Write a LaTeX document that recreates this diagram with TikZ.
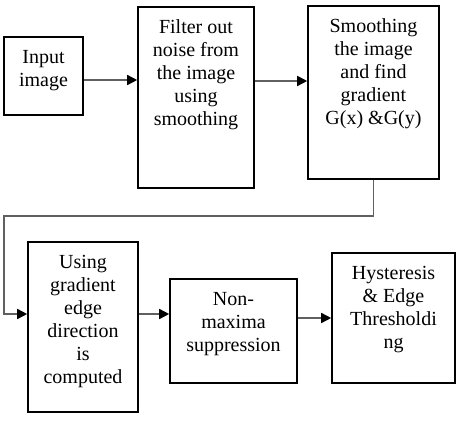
\documentclass[tikz,border=0pt]{standalone}
\usepackage{fontspec}
\setmainfont{Liberation Serif}
\usetikzlibrary{arrows.meta}

\newcommand{\stagetext}[3]{\parbox[c][#2pt][t]{#1pt}{\centering\rule{0pt}{26pt}#3}}

\tikzset{
  stage/.style={draw, line width=1.6pt, inner sep=0pt, fill=white,
                font=\fontsize{20}{23}\selectfont},
  flow/.style={draw=gray!75!black, line width=1.6pt,
               -{Triangle[length=10pt, width=10pt, color=black]}}
}

\begin{document}
\begin{tikzpicture}[x=1pt, y=-1pt]
  \useasboundingbox[fill=white] (0,0) rectangle (456,434);

  \node[stage] (input)   at (43.5,76)   {\stagetext{79}{78}{Input\\image}};
  \node[stage] (filter)  at (196,97.5)  {\stagetext{116}{181}{Filter out\\noise from\\the image\\using\\smoothing}};
  \node[stage] (smooth)  at (373.5,92.5){\stagetext{131}{173}{Smoothing\\the image\\and find\\gradient\\G(x) \&G(y)}};
  \node[stage] (edge)    at (83,327)    {\stagetext{110}{170}{Using\\gradient\\edge\\direction\\is\\computed}};
  \node[stage] (nonmax)  at (233.5,331) {\stagetext{127}{104}{Non-\\maxima\\suppression}};
  \node[stage] (hyst)    at (393.5,318) {\stagetext{123}{130}{Hysteresis\\\& Edge\\Thresholdi\\ng}};

  \coordinate (rowa) at (0,81);
  \coordinate (turn) at (4,216);
  \coordinate (rowb) at (0,314);

  \draw[flow] ([yshift=-4pt]input.east) -- ([yshift=-4pt]input.east -| filter.west);
  \draw[flow] (filter.east |- rowa) -- (smooth.west |- rowa);
  \draw[flow] (smooth.south) |- (turn) |- (rowb -| edge.west);
  \draw[flow] (edge.east |- rowb) -- (nonmax.west |- rowb);
  \draw[flow] (nonmax.east |- hyst.west) -- (hyst.west);
\end{tikzpicture}
\end{document}
